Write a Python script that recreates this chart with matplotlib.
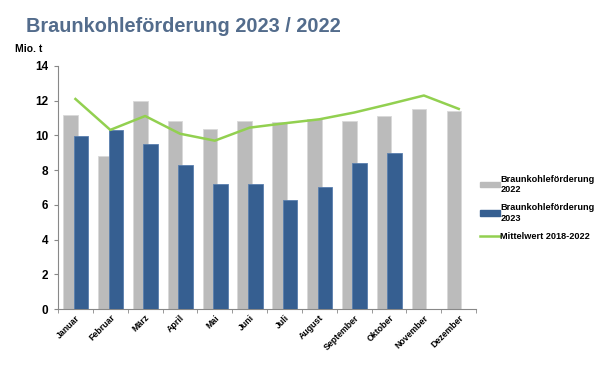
import matplotlib
matplotlib.use("Agg")
import matplotlib.pyplot as plt
import numpy as np
from matplotlib.patches import Patch
from matplotlib.lines import Line2D

months = ["Januar", "Februar", "März", "April", "Mai", "Juni", "Juli",
          "August", "September", "Oktober", "November", "Dezember"]
v2022 = [11.15, 8.8, 12.0, 10.82, 10.37, 10.82, 10.75, 10.97, 10.82, 11.1, 11.5, 11.43]
v2023 = [9.95, 10.32, 9.5, 8.32, 7.2, 7.2, 6.28, 7.04, 8.42, 8.98]
mean_1822 = [12.1, 10.32, 11.12, 10.1, 9.7, 10.45, 10.7, 10.93, 11.32, 11.8, 12.3, 11.53]
yticks = [0, 2, 4, 6, 8, 10, 12, 14]

plt.rcParams['font.family'] = ['Liberation Sans', 'DejaVu Sans']

fig = plt.figure(figsize=(6.14, 3.68), dpi=100)
ax = fig.add_axes([0.0945, 0.160, 0.681, 0.6607])

x = np.arange(len(months))
gray = "#BBBBBB"
blue = "#365F91"
green = "#92D050"
w = 0.42
ax.bar(x - 0.14, v2022, width=w, color=gray, edgecolor="#D9D9D9", linewidth=0.6, zorder=2)
ax.bar(x[:len(v2023)] + 0.16, v2023, width=w, color=blue, edgecolor="#5A7FAE", linewidth=0.6, zorder=3)
ax.plot(x, mean_1822, color=green, linewidth=1.8, zorder=4)

ax.set_xlim(-0.5, len(months) - 0.5)
ax.set_ylim(0, 14)
ax.set_yticks(yticks)
ax.set_yticklabels([str(t) for t in yticks], fontsize=8.5, fontweight='bold')
ax.set_xticks(x)
ax.set_xticklabels(months, rotation=45, ha='right', rotation_mode='anchor',
                   fontsize=6.3, fontweight='bold')
ax.tick_params(axis='x', length=0, pad=3)
ax.set_xticks(np.arange(len(months) + 1) - 0.5, minor=True)
ax.tick_params(axis='x', which='minor', length=3, color="#888888")
ax.tick_params(axis='y', length=3, color="#888888", pad=4)
for s in ['top', 'right']:
    ax.spines[s].set_visible(False)
for s in ['left', 'bottom']:
    ax.spines[s].set_color("#888888")
    ax.spines[s].set_linewidth(0.8)

handles = [Patch(facecolor=gray, edgecolor=gray),
           Patch(facecolor=blue, edgecolor=blue),
           Line2D([0], [0], color=green, linewidth=1.8)]
labels = ["Braunkohleförderung\n2022", "Braunkohleförderung\n2023", "Mittelwert 2018-2022"]
fig.legend(handles, labels, loc='upper left', bbox_to_anchor=(0.768, 0.548),
           frameon=False, prop={'size': 6.6, 'weight': 'bold'},
           handlelength=2.2, handleheight=0.5, handletextpad=0.05, labelspacing=1.0)

fig.text(0.043, 0.929, "Braunkohleförderung 2023 / 2022", fontsize=14.3, fontweight='bold',
         color="#536C8C", va='center', ha='left')
fig.text(0.025, 0.868, "Mio. t", fontsize=7.5, fontweight='bold', va='center', ha='left')

fig.savefig("out.png", dpi=100)
